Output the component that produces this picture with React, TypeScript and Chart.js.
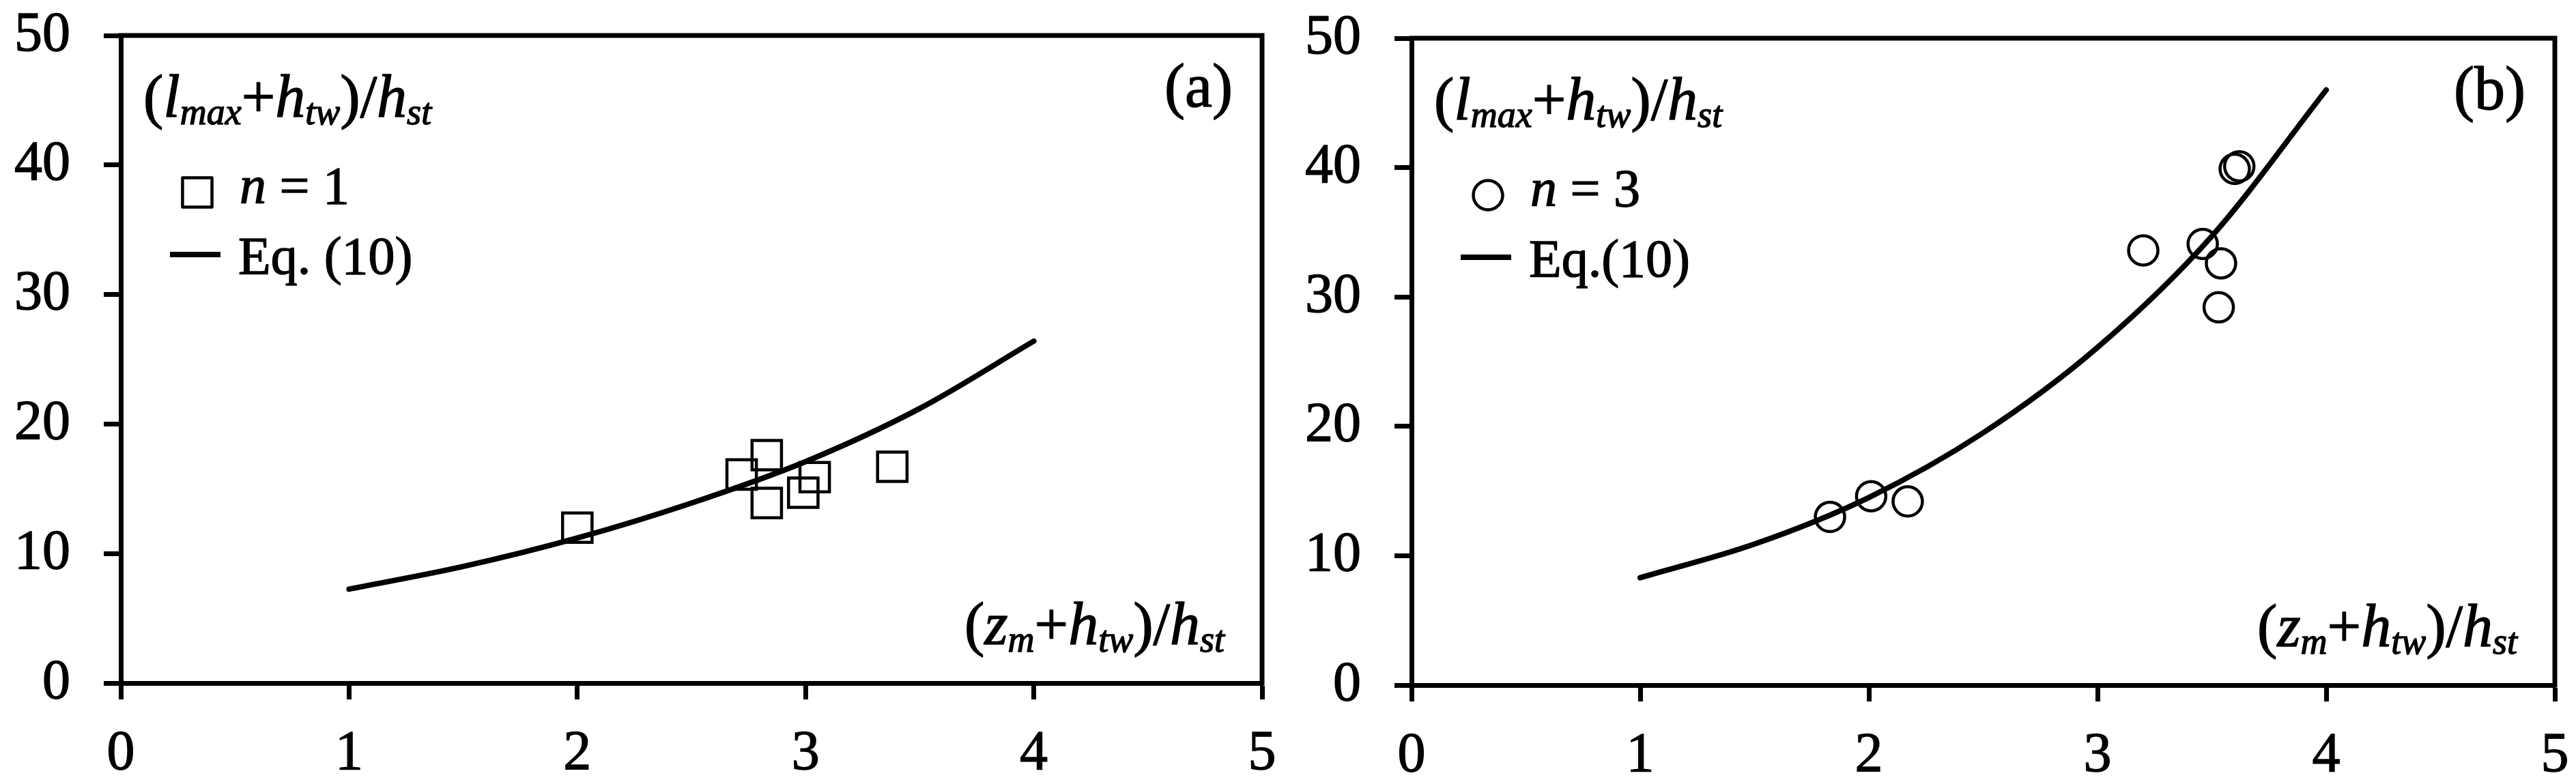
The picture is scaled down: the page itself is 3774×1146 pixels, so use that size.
import React, { useEffect, useRef } from 'react';
import { Chart, registerables } from 'chart.js';

Chart.register(...registerables);

const FONT = '"Liberation Serif", "Times New Roman", Times, serif';

// ---- data ----
const xTickValues = [0, 1, 2, 3, 4, 5];
const yTickValues = [0, 10, 20, 30, 40, 50];

// panel (a): n = 1
const nOneX = [2.0, 2.72, 2.83, 2.83, 2.99, 3.04, 3.38];
const nOneY = [12.0, 16.1, 17.6, 13.9, 14.7, 15.9, 16.7];
const eqAX = [1, 1.5, 2, 2.5, 3, 3.5, 4];
const eqAY = [7.25, 9.0, 11.2, 13.9, 17.1, 21.2, 26.4];

// panel (b): n = 3
const nThreeX = [1.83, 2.01, 2.17, 3.2, 3.46, 3.54, 3.53, 3.6, 3.62];
const nThreeY = [13.0, 14.6, 14.2, 33.6, 34.1, 32.6, 29.2, 39.9, 40.1];
const eqBX = [1, 1.5, 2, 2.5, 3, 3.5, 4];
const eqBY = [8.3, 10.9, 14.5, 19.5, 26.1, 34.7, 46.0];

const labelsA = ['n = 1', 'Eq. (10)', '(a)'];
const labelsB = ['n = 3', 'Eq.(10)', '(b)'];

type Run = { t: string; it?: boolean; sub?: boolean };
const yTitleRuns: Run[] = [
  { t: '(' }, { t: 'l', it: true }, { t: 'max', it: true, sub: true }, { t: '+' },
  { t: 'h', it: true }, { t: 'tw', it: true, sub: true }, { t: ')/' },
  { t: 'h', it: true }, { t: 'st', it: true, sub: true },
];
const xTitleRuns: Run[] = [
  { t: '(' }, { t: 'z', it: true }, { t: 'm', it: true, sub: true }, { t: '+' },
  { t: 'h', it: true }, { t: 'tw', it: true, sub: true }, { t: ')/' },
  { t: 'h', it: true }, { t: 'st', it: true, sub: true },
];

const TEXT_STROKE = 1.4;
const AXIS_W = 7;

function drawRuns(ctx: CanvasRenderingContext2D, runs: Run[], x: number, y: number, size: number, subSize: number, subDy: number, align: 'left' | 'right') {
  const f = (r: Run) => `${r.it ? 'italic ' : ''}${r.sub ? subSize : size}px ${FONT}`;
  let total = 0;
  for (const r of runs) { ctx.font = f(r); total += ctx.measureText(r.t).width; }
  let cx = align === 'right' ? x - total : x;
  ctx.textAlign = 'left';
  ctx.textBaseline = 'alphabetic';
  ctx.lineWidth = TEXT_STROKE;
  ctx.lineJoin = 'round';
  for (const r of runs) {
    ctx.font = f(r);
    const yy = r.sub ? y + subDy : y;
    ctx.fillText(r.t, cx, yy);
    ctx.strokeText(r.t, cx, yy);
    cx += ctx.measureText(r.t).width;
  }
}

type PanelCfg = {
  style: 'rect' | 'circle';
  radius: number;
  xs: number[]; ys: number[];
  cx: number[]; cy: number[];
  labels: string[];
  width: number; yAxisW: number; xAxisH: number; padTop: number; padRight: number;
};

const annotPlugin = {
  id: 'annot',
  afterDraw(chart: any) {
    const cfg: PanelCfg = chart.options.plugins.annot.cfg;
    const { ctx, chartArea: a } = chart;
    ctx.save();
    ctx.strokeStyle = '#000';
    ctx.fillStyle = '#000';
    // top & right frame
    ctx.lineWidth = AXIS_W;
    ctx.lineCap = 'square';
    ctx.beginPath();
    ctx.moveTo(a.left, a.top);
    ctx.lineTo(a.right, a.top);
    ctx.lineTo(a.right, a.bottom);
    ctx.stroke();

    // y title
    drawRuns(ctx, yTitleRuns, a.left + 33, a.top + 119, 88, 54, 11, 'left');
    // x title
    drawRuns(ctx, xTitleRuns, a.right - 55, a.bottom - 57, 88, 54, 11, 'right');
    // panel tag
    drawRuns(ctx, [{ t: cfg.labels[2] }], a.right - 43, a.top + 104, 90, 90, 0, 'right');

    // legend marker
    const mx = a.left + 112, my = a.top + 230;
    ctx.lineWidth = 4.5;
    ctx.beginPath();
    if (cfg.style === 'rect') {
      const s = cfg.radius * Math.SQRT1_2;
      ctx.rect(mx - s, my - s, 2 * s, 2 * s);
    } else {
      ctx.arc(mx, my, cfg.radius, 0, Math.PI * 2);
    }
    ctx.stroke();
    // legend text 1
    const t1 = cfg.labels[0];
    drawRuns(ctx, [{ t: t1.slice(0, 1), it: true }, { t: t1.slice(1) }], a.left + 174, a.top + 246, 78, 78, 0, 'left');
    // legend line
    const ly = a.top + 321;
    ctx.lineWidth = 8;
    ctx.lineCap = 'butt';
    ctx.beginPath();
    ctx.moveTo(a.left + 72, ly);
    ctx.lineTo(a.left + 146, ly);
    ctx.stroke();
    drawRuns(ctx, [{ t: cfg.labels[1] }], a.left + 172, ly + 28, 78, 78, 0, 'left');
    ctx.restore();
  },
};

function noPad(s: any) {
  s.paddingTop = 0;
  s.paddingBottom = 0;
  s.paddingLeft = 0;
  s.paddingRight = 0;
}

function PanelChart({ cfg }: { cfg: PanelCfg }) {
  const ref = useRef<HTMLCanvasElement | null>(null);
  useEffect(() => {
    if (!ref.current) return;
    const tickFont = { family: FONT, size: 82 };
    const chart = new Chart(ref.current, {
      type: 'scatter',
      data: {
        datasets: [
          {
            label: cfg.labels[1],
            data: cfg.cx.map((x, i) => ({ x, y: cfg.cy[i] })),
            showLine: true,
            borderColor: '#000',
            borderWidth: 8,
            borderCapStyle: 'round',
            pointRadius: 0,
            cubicInterpolationMode: 'monotone',
            fill: false,
          } as any,
          {
            label: cfg.labels[0],
            data: cfg.xs.map((x, i) => ({ x, y: cfg.ys[i] })),
            showLine: false,
            pointStyle: cfg.style,
            pointRadius: cfg.radius,
            pointBorderWidth: 4.5,
            pointBorderColor: '#000',
            pointBackgroundColor: 'rgba(0,0,0,0)',
          } as any,
        ],
      },
      options: {
        responsive: false,
        animation: false,
        events: [],
        layout: { padding: { top: cfg.padTop, right: cfg.padRight, left: 0, bottom: 0 } },
        plugins: {
          legend: { display: false },
          tooltip: { enabled: false },
          annot: { cfg },
        } as any,
        scales: {
          x: {
            type: 'linear',
            min: 0,
            max: 5,
            afterBuildTicks: (s: any) => { s.ticks = xTickValues.map((v) => ({ value: v })); },
            afterFit: (s: any) => { s.height = cfg.xAxisH; noPad(s); },
            ticks: { font: tickFont, color: '#000', padding: 31, maxRotation: 0, autoSkip: false, textStrokeColor: '#000', textStrokeWidth: TEXT_STROKE },
            grid: { drawOnChartArea: false, drawTicks: true, tickLength: 24, tickWidth: AXIS_W, tickColor: '#000', color: '#000' },
            border: { display: true, width: AXIS_W, color: '#000' },
          },
          y: {
            type: 'linear',
            min: 0,
            max: 50,
            afterBuildTicks: (s: any) => { s.ticks = yTickValues.map((v) => ({ value: v })); },
            afterFit: (s: any) => { s.width = cfg.yAxisW; noPad(s); },
            ticks: { font: tickFont, color: '#000', padding: 49, autoSkip: false, textStrokeColor: '#000', textStrokeWidth: TEXT_STROKE },
            grid: { drawOnChartArea: false, drawTicks: true, tickLength: 25, tickWidth: AXIS_W, tickColor: '#000', color: '#000' },
            border: { display: true, width: AXIS_W, color: '#000' },
          },
        },
      } as any,
      plugins: [annotPlugin],
    });
    return () => chart.destroy();
  }, [cfg]);
  return <canvas ref={ref} width={cfg.width} height={1146} style={{ width: cfg.width, height: 1146, display: 'block' }} />;
}

const cfgA: PanelCfg = {
  style: 'rect', radius: 30.5,
  xs: nOneX, ys: nOneY, cx: eqAX, cy: eqAY, labels: labelsA,
  width: 1890, yAxisW: 177, xAxisH: 145, padTop: 52, padRight: 41,
};
const cfgB: PanelCfg = {
  style: 'circle', radius: 21.5,
  xs: nThreeX, ys: nThreeY, cx: eqBX, cy: eqBY, labels: labelsB,
  width: 1884, yAxisW: 178, xAxisH: 142, padTop: 56, padRight: 31,
};

export default function App() {
  return (
    <div style={{ position: 'absolute', left: 0, top: 0, width: 3774, height: 1146, background: '#fff', display: 'flex', overflow: 'hidden' }}>
      <PanelChart cfg={cfgA} />
      <PanelChart cfg={cfgB} />
    </div>
  );
}
